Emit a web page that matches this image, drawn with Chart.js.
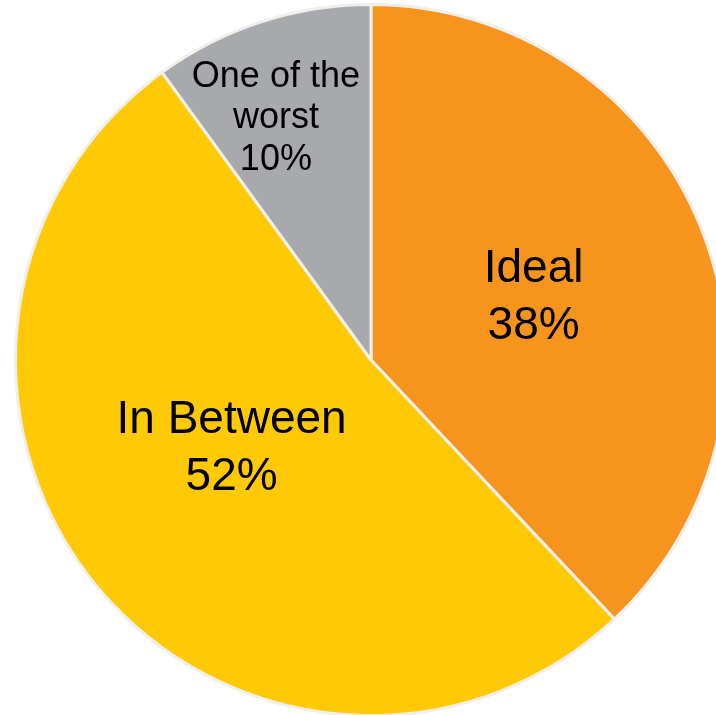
<!DOCTYPE html>
<html>
<head>
<meta charset="utf-8">
<script src="https://cdn.jsdelivr.net/npm/chart.js@4/dist/chart.umd.min.js"></script>
<style>
  html, body { margin: 0; padding: 0; background: #fff; overflow: hidden; width: 716px; height: 715px; }
  #wrap { position: absolute; left: 0; top: 0; width: 760px; height: 760px; }
</style>
</head>
<body>
<div id="wrap"><canvas id="pieChart"></canvas></div>
<script>
const categories = ["Ideal", "In Between", "One of the worst"];
const labelLines = [["Ideal"], ["In Between"], ["One of the", "worst"]];
const shares = [38, 52, 10];
const sliceColors = ["#F7941E", "#FFC905", "#A7A9AC"];

// where each label sits: fraction of radius, angle (degrees clockwise from top)
const labelRadius = [0.49, 0.465, 0.73];
const labelAngle = [69, 237.5, 338.5];
const labelFont = [46, 46, 36];
const labelLineHeight = [57, 57, 41.5];

const sliceLabels = {
  id: "sliceLabels",
  afterDatasetsDraw(chart) {
    const ctx = chart.ctx;
    const arcs = chart.getDatasetMeta(0).data;
    ctx.save();
    ctx.fillStyle = "#000";
    ctx.textAlign = "center";
    ctx.textBaseline = "middle";
    arcs.forEach((arc, i) => {
      const a = (labelAngle[i] - 90) * Math.PI / 180;
      const r = arc.outerRadius * labelRadius[i];
      const cx = arc.x + Math.cos(a) * r;
      const cy = arc.y + Math.sin(a) * r;
      const lines = labelLines[i].concat([shares[i] + "%"]);
      const lh = labelLineHeight[i];
      ctx.font = labelFont[i] + "px 'Liberation Sans', Arial, sans-serif";
      lines.forEach((t, k) => {
        ctx.fillText(t, cx, cy + (k - (lines.length - 1) / 2) * lh);
      });
    });
    ctx.restore();
  }
};

new Chart(document.getElementById("pieChart"), {
  type: "pie",
  data: {
    labels: categories,
    datasets: [{
      data: shares,
      backgroundColor: sliceColors,
      borderColor: "#F0EFEA",
      borderWidth: 3,
    }],
  },
  options: {
    responsive: true,
    maintainAspectRatio: false,
    animation: false,
    layout: { padding: { left: 14, top: 3, right: 32, bottom: 43 } },
    plugins: {
      legend: { display: false },
      tooltip: { enabled: false },
    },
  },
  plugins: [sliceLabels],
});
</script>
</body>
</html>
